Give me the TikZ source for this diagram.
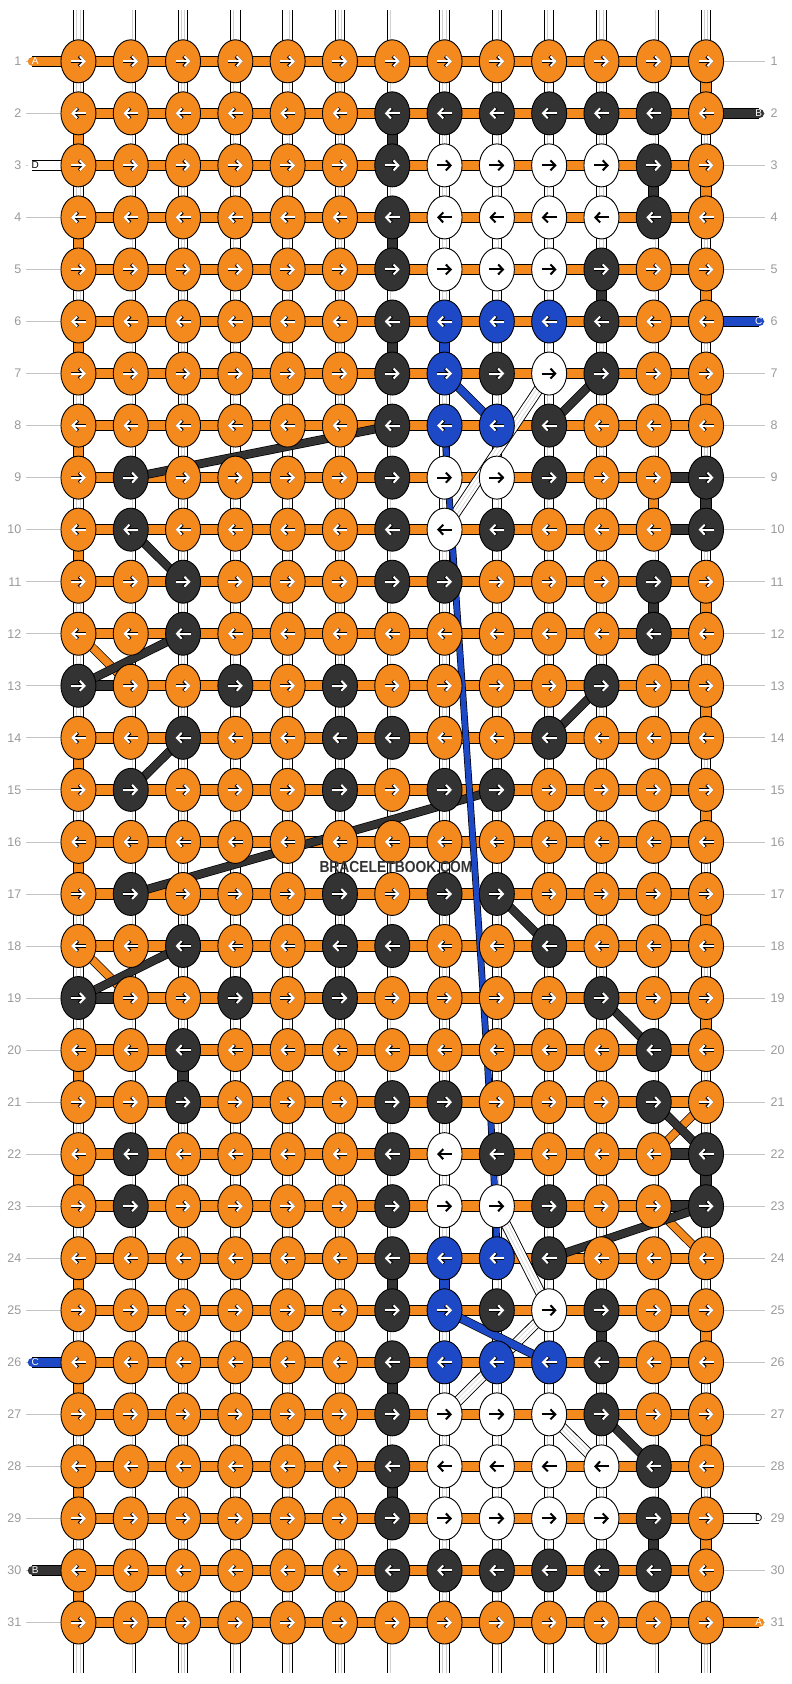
\documentclass[tikz,border=0pt]{standalone}
\usepackage{fontspec}
\setmainfont{Liberation Sans}
\usepackage{tikz}
\usetikzlibrary{calc}
\usetikzlibrary{arrows.meta}
\usetikzlibrary{shapes.geometric}
\usetikzlibrary{backgrounds}
\definecolor{orng}{HTML}{F4891E}
\definecolor{drk}{HTML}{333333}
\definecolor{blu}{HTML}{1D49C6}
\definecolor{numgray}{HTML}{9A9A9A}
\definecolor{linegray}{HTML}{C4C4C4}
\tikzset{%
  knot/.style={ellipse, draw=black, line width=0.9pt, minimum width=35pt, minimum height=43pt, inner sep=0pt},
  kn-o/.style={knot, fill=orng},
  kn-k/.style={knot, fill=drk},
  kn-b/.style={knot, fill=blu},
  kn-w/.style={knot, fill=white},
  arrtip/.style={-{Straight Barb[length=4.8pt,width=10pt]}},
  arr-o/.style={arrtip, draw=white, line width=2pt, preaction={draw=black, line width=3.2pt}},
  arr-k/.style={arr-o},
  arr-b/.style={arr-o},
  arr-w/.style={arrtip, draw=black, line width=2pt},
  basestr/.style={draw=white, line width=2.8pt, preaction={draw=black, line width=10.4pt}, preaction={draw=white, line width=8.6pt}, preaction={draw=black!18, line width=4.2pt}},
  vseg/.style={draw=#1, line width=9.2pt, preaction={draw=black, line width=11.2pt}},
  hseg/.style={draw=#1, line width=9.4pt, preaction={draw=black, line width=11.4pt}},
  dline/.style={draw=#1, line width=7.4pt, preaction={draw=black, line width=8.8pt}},
  bline/.style={draw=blu, line width=5.4pt, preaction={draw=black, line width=6.8pt}},
  endstr/.style={hseg=#1, line cap=round},
  numlab/.style={text=numgray, font=\fontsize{12.5}{12.5}\selectfont, inner sep=0pt},
  numline/.style={draw=linegray, line width=0.8pt},
  endlab/.style={font=\fontsize{10}{10}\selectfont, inner sep=0pt}
}

\begin{document}
\begin{tikzpicture}[x=52.3pt, y=-52.04pt]
\useasboundingbox (0pt,0pt) rectangle (792pt,-1684pt);

% knots
\foreach \r/\row in {
  1/{o,o,o,o,o,o,o,o,o,o,o,o,o},
  2/{o,o,o,o,o,o,k,k,k,k,k,k,o},
  3/{o,o,o,o,o,o,k,w,w,w,w,k,o},
  4/{o,o,o,o,o,o,k,w,w,w,w,k,o},
  5/{o,o,o,o,o,o,k,w,w,w,k,o,o},
  6/{o,o,o,o,o,o,k,b,b,b,k,o,o},
  7/{o,o,o,o,o,o,k,b,k,w,k,o,o},
  8/{o,o,o,o,o,o,k,b,b,k,o,o,o},
  9/{o,k,o,o,o,o,k,w,w,k,o,o,k},
  10/{o,k,o,o,o,o,k,w,k,o,o,o,k},
  11/{o,o,k,o,o,o,k,k,o,o,o,k,o},
  12/{o,o,k,o,o,o,o,o,o,o,o,k,o},
  13/{k,o,o,k,o,k,o,o,o,o,k,o,o},
  14/{o,o,k,o,o,k,k,o,o,k,o,o,o},
  15/{o,k,o,o,o,k,o,k,k,o,o,o,o},
  16/{o,o,o,o,o,o,o,o,o,o,o,o,o},
  17/{o,k,o,o,o,k,o,k,k,o,o,o,o},
  18/{o,o,k,o,o,k,k,o,o,k,o,o,o},
  19/{k,o,o,k,o,k,o,o,o,o,k,o,o},
  20/{o,o,k,o,o,o,o,o,o,o,o,k,o},
  21/{o,o,k,o,o,o,k,k,o,o,o,k,o},
  22/{o,k,o,o,o,o,k,w,k,o,o,o,k},
  23/{o,k,o,o,o,o,k,w,w,k,o,o,k},
  24/{o,o,o,o,o,o,k,b,b,k,o,o,o},
  25/{o,o,o,o,o,o,k,b,k,w,k,o,o},
  26/{o,o,o,o,o,o,k,b,b,b,k,o,o},
  27/{o,o,o,o,o,o,k,w,w,w,k,o,o},
  28/{o,o,o,o,o,o,k,w,w,w,w,k,o},
  29/{o,o,o,o,o,o,k,w,w,w,w,k,o},
  30/{o,o,o,o,o,o,k,k,k,k,k,k,o},
  31/{o,o,o,o,o,o,o,o,o,o,o,o,o}} {
  \foreach \c [count=\i] in \row {
    \node [kn-\c] (k-\r-\i) at (\i+0.5, \r+0.178) {};
    \ifodd\r\relax
      \draw [arr-\c] ([xshift=-7.5pt]k-\r-\i.center) -- ([xshift=7.5pt]k-\r-\i.center);
    \else
      \draw [arr-\c] ([xshift=7.5pt]k-\r-\i.center) -- ([xshift=-7.5pt]k-\r-\i.center);
    \fi
  }
}

\foreach \r in {1,...,31} {
  \node [numlab, anchor=east] (nl-\r) at (0.41, \r+0.178) {\r};
  \node [numlab, anchor=west] (nr-\r) at (14.73, \r+0.178) {\r};
  \coordinate (lt-\r) at (0.5, \r+0.178);
  \coordinate (rt-\r) at (14.63, \r+0.178);
}

\begin{pgfonlayer}{background}
\fill [white] (0pt,0pt) rectangle (792pt,-1684pt);

% vertical strings
\foreach \i in {1,...,13} {
  \coordinate (top-\i) at (\i+0.5, 0.2);
  \coordinate (bot-\i) at (\i+0.5, 32.15);
  \draw [basestr, line cap=round] (top-\i) -- (bot-\i);
}

\foreach \cl/\i/\r in {drk/7/2, drk/7/4, drk/7/6, drk/7/24, drk/7/26, drk/7/28,
    drk/11/5, drk/11/25, drk/12/3, drk/12/11, drk/12/29, drk/13/9, drk/13/22, drk/3/20,
    blu/8/6, blu/8/24, orng/12/9,
    orng/1/2, orng/1/4, orng/1/6, orng/1/8, orng/1/10, orng/1/14, orng/1/16,
    orng/1/20, orng/1/22, orng/1/24, orng/1/26, orng/1/28, orng/1/30,
    orng/13/1, orng/13/3, orng/13/5, orng/13/7, orng/13/11, orng/13/13,
    orng/13/15, orng/13/17, orng/13/19, orng/13/25, orng/13/27, orng/13/29} {
  \pgfmathtruncatemacro{\rn}{\r+1}
  \draw [vseg=\cl] (k-\r-\i.center) -- (k-\rn-\i.center);
}

% horizontal strings
\foreach \r in {1,...,31} {
  \draw [hseg=orng] (k-\r-1.center) -- (k-\r-13.center);
  \draw [numline] (lt-\r) -- (k-\r-1);
  \draw [numline] (k-\r-13) -- (rt-\r);
}
\foreach \r/\i/\j in {9/12/13, 10/12/13, 22/12/13, 23/12/13, 13/1/2, 19/1/2}
  \draw [hseg=drk] (k-\r-\i.center) -- (k-\r-\j.center);

% carried strings
\foreach \ay/\ax/\by/\bx in {7/10/10/8, 23/9/25/10, 25/10/27/8, 27/10/28/11}
  \draw [basestr] (k-\ay-\ax.center) -- (k-\by-\bx.center);
\foreach \cl/\ay/\ax/\by/\bx in {orng/12/1/13/2, orng/18/1/19/2, orng/21/13/22/12, orng/23/12/24/13,
    drk/9/2/8/7, drk/10/2/11/3, drk/12/3/13/1, drk/14/3/15/2, drk/17/2/15/9,
    drk/18/3/19/1, drk/7/11/8/10, drk/13/11/14/10, drk/17/9/18/10,
    drk/19/11/20/12, drk/21/12/22/13, drk/23/13/24/10, drk/27/11/28/12,
    blu/7/8/8/9, blu/25/8/26/10}
  \draw [dline=\cl] (k-\ay-\ax.center) -- (k-\by-\bx.center);
\draw [bline] (k-8-8.center) .. controls (8.6,10) and (9.5,22.1) .. (k-24-9.center);

% string ends
\foreach \r/\cl in {1/orng, 3/white, 26/blu, 30/drk} {
  \coordinate (capl-\r) at (0.62, \r+0.178);
  \draw [endstr=\cl] (capl-\r) -- (k-\r-1.center);
}
\foreach \r/\cl in {2/drk, 6/blu, 29/white, 31/orng} {
  \coordinate (capr-\r) at (14.52, \r+0.178);
  \draw [endstr=\cl] (k-\r-13.center) -- (capr-\r);
}
\end{pgfonlayer}

\foreach \r/\txc/\ltr in {1/white/A, 3/black/D, 26/white/C, 30/white/B}
  \node [endlab, text=\txc] (el-\r) at (0.675, \r+0.178) {\ltr};
\foreach \r/\txc/\ltr in {2/white/B, 6/white/C, 29/black/D, 31/white/A}
  \node [endlab, text=\txc] (er-\r) at (14.505, \r+0.178) {\ltr};

\node [text=drk, font=\bfseries\fontsize{16}{16}\selectfont, inner sep=0pt] (wm) at (396pt,-867pt) {\scalebox{0.865}[1]{BRACELETBOOK.COM}};
\end{tikzpicture}
\end{document}
